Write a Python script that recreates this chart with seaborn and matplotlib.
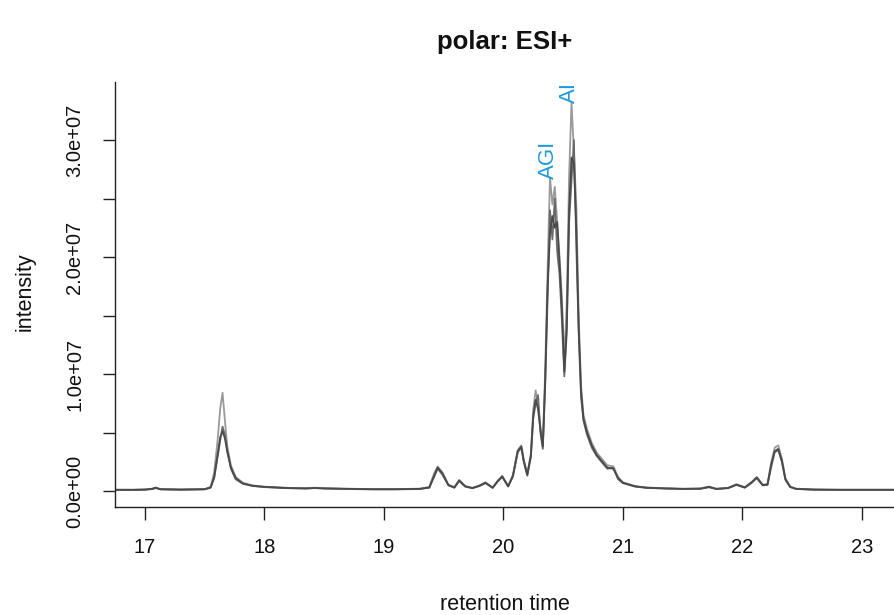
import matplotlib
matplotlib.use("Agg")
import matplotlib.pyplot as plt
import matplotlib.ticker as mticker
import seaborn as sns
import pandas as pd

sns.set_theme(style="ticks")
plt.rcParams['font.family'] = ['Liberation Sans', 'DejaVu Sans']

# retention time (min)
rt = [16.75, 16.90, 17.00, 17.06, 17.09, 17.13, 17.30, 17.50, 17.55, 17.58,
      17.61, 17.63, 17.65, 17.67, 17.69, 17.72, 17.76, 17.82, 17.90, 18.00,
      18.20, 18.35, 18.42, 18.50, 18.70, 18.90, 19.10, 19.30, 19.38, 19.42,
      19.45, 19.49, 19.54, 19.59, 19.63, 19.68, 19.74, 19.80, 19.85, 19.91,
      19.95, 19.99, 20.04, 20.08, 20.12, 20.15, 20.17, 20.20, 20.23, 20.25,
      20.27, 20.29, 20.31, 20.33, 20.35, 20.37, 20.39, 20.41, 20.43, 20.45,
      20.47, 20.49, 20.51, 20.53, 20.55, 20.57, 20.59, 20.61, 20.63, 20.65,
      20.67, 20.70, 20.74, 20.78, 20.82, 20.87, 20.92, 20.96, 21.00, 21.10,
      21.20, 21.35, 21.50, 21.65, 21.72, 21.78, 21.88, 21.95, 22.02, 22.08,
      22.12, 22.17, 22.21, 22.24, 22.27, 22.30, 22.33, 22.36, 22.40, 22.45,
      22.60, 22.80, 23.00, 23.30]

# intensities, in millions, one list per sample
rep_a = [0.10, 0.10, 0.12, 0.18, 0.28, 0.15, 0.12, 0.15, 0.30, 1.2,
         3.2, 4.6, 5.1, 4.5, 3.3, 2.0, 1.1, 0.65, 0.45, 0.35,
         0.25, 0.22, 0.26, 0.22, 0.18, 0.15, 0.15, 0.18, 0.30, 1.3,
         2.0, 1.5, 0.5, 0.30, 0.90, 0.40, 0.25, 0.45, 0.70, 0.28,
         0.80, 1.25, 0.40, 1.30, 3.40, 3.80, 2.6, 1.4, 3.0, 6.5,
         7.8, 7.0, 5.2, 3.8, 9.5, 17.5, 22.0, 23.5, 22.5, 23.0,
         19.5, 15.5, 10.2, 14.0, 24.0, 28.5, 28.0, 22.5, 14.0, 8.5,
         6.2, 5.0, 3.9, 3.1, 2.6, 2.0, 1.9, 1.1, 0.7, 0.40,
         0.28, 0.22, 0.18, 0.20, 0.35, 0.18, 0.25, 0.55, 0.30, 0.75,
         1.15, 0.50, 0.55, 2.2, 3.4, 3.6, 2.6, 1.0, 0.35, 0.18,
         0.12, 0.10, 0.10, 0.10]
rep_b = [0.12, 0.11, 0.13, 0.20, 0.30, 0.16, 0.13, 0.16, 0.35, 1.6,
         4.5, 7.0, 8.4, 6.0, 3.8, 2.2, 1.2, 0.70, 0.48, 0.37,
         0.27, 0.24, 0.28, 0.24, 0.20, 0.16, 0.16, 0.20, 0.35, 1.5,
         2.1, 1.6, 0.55, 0.32, 0.95, 0.42, 0.27, 0.48, 0.75, 0.30,
         0.85, 1.30, 0.42, 1.40, 3.50, 3.90, 2.7, 1.5, 3.2, 7.0,
         8.6, 7.4, 5.5, 4.0, 10.5, 19.0, 26.8, 24.5, 26.0, 23.0,
         20.0, 16.5, 11.0, 16.0, 27.0, 33.2, 29.0, 24.5, 15.0, 9.0,
         6.5, 5.3, 4.1, 3.3, 2.8, 2.2, 2.1, 1.2, 0.75, 0.42,
         0.30, 0.24, 0.20, 0.22, 0.38, 0.20, 0.27, 0.58, 0.32, 0.80,
         1.20, 0.55, 0.60, 2.4, 3.7, 3.9, 2.8, 1.1, 0.38, 0.20,
         0.13, 0.11, 0.11, 0.11]
rep_c = [0.09, 0.09, 0.11, 0.16, 0.25, 0.14, 0.11, 0.14, 0.28, 1.1,
         3.0, 4.3, 5.5, 4.8, 3.5, 1.9, 1.0, 0.62, 0.43, 0.33,
         0.24, 0.21, 0.25, 0.21, 0.17, 0.14, 0.14, 0.17, 0.28, 1.2,
         1.9, 1.4, 0.48, 0.28, 0.85, 0.38, 0.24, 0.42, 0.68, 0.26,
         0.78, 1.20, 0.38, 1.25, 3.30, 3.70, 2.5, 1.3, 2.9, 6.2,
         7.5, 8.2, 5.0, 3.6, 9.0, 16.5, 24.0, 21.5, 25.0, 20.5,
         18.5, 14.5, 9.8, 13.5, 23.0, 26.5, 30.0, 21.0, 13.5, 8.0,
         6.0, 4.8, 3.7, 3.0, 2.5, 1.9, 2.0, 1.0, 0.68, 0.38,
         0.26, 0.21, 0.17, 0.19, 0.32, 0.17, 0.24, 0.52, 0.28, 0.72,
         1.10, 0.48, 0.52, 2.0, 3.3, 3.5, 2.5, 0.95, 0.33, 0.17,
         0.11, 0.10, 0.10, 0.10]

peak_names = ["AGI", "AI"]
peak_rt = [20.38, 20.55]
peak_top = [26.7, 33.2]  # millions

rows = []
for name, vals in [("b", rep_b), ("c", rep_c), ("a", rep_a)]:
    for t, v in zip(rt, vals):
        rows.append({"sample": name, "rt": t, "intensity": v * 1e6})
df = pd.DataFrame(rows)

fig = plt.figure(figsize=(8.94, 6.15), dpi=100)
ax = fig.add_axes([115/894, 1-507/615, 780/894, 425/615])

sns.lineplot(data=df, x="rt", y="intensity", hue="sample", units="sample",
             estimator=None, sort=False, legend=False, lw=1.3, ax=ax,
             palette={"b": "#9a9a9a", "c": "#6a6a6a", "a": "#4a4a4a"})

for name, t, top in zip(peak_names, peak_rt, peak_top):
    ax.text(t, top * 1e6, name, rotation=90, ha="center", va="bottom",
            color="#1f9ad8", fontsize=16)

ax.set_xlim(16.75, 23.277)
ax.set_ylim(-1.368e6, 3.496e7)
ax.set_xticks([17, 18, 19, 20, 21, 22, 23])
ax.yaxis.set_major_locator(mticker.FixedLocator([i * 5e6 for i in range(8)]))

def ylab(v, pos):
    if round(v / 1e7, 3) % 1 == 0:
        return "%.1fe+%02d" % (v / 1e7, 7) if v != 0 else "0.0e+00"
    return ""
ax.yaxis.set_major_formatter(mticker.FuncFormatter(ylab))

for lbl in ax.get_yticklabels():
    lbl.set_rotation(90)
    lbl.set_va("center")

ax.tick_params(axis="both", direction="out", length=9, width=1, color="#222222",
               labelsize=14.5, labelcolor="#111111", pad=13)
for s in ["top", "right"]:
    ax.spines[s].set_visible(False)
for s in ["left", "bottom"]:
    ax.spines[s].set_color("#222222")
    ax.spines[s].set_linewidth(1)
ax.set_xlabel("")
ax.set_ylabel("")

fig.text(505/894, 1-42/615, "polar: ESI+", ha="center", va="center",
         fontsize=18.5, fontweight="bold", color="#111111")
fig.text(505/894, 1-604/615, "retention time", ha="center", va="center",
         fontsize=15.5, color="#111111")
fig.text(25/894, 1-292/615, "intensity", ha="center", va="center",
         rotation=90, fontsize=15.5, color="#111111")

plt.savefig("out.png", dpi=100)
